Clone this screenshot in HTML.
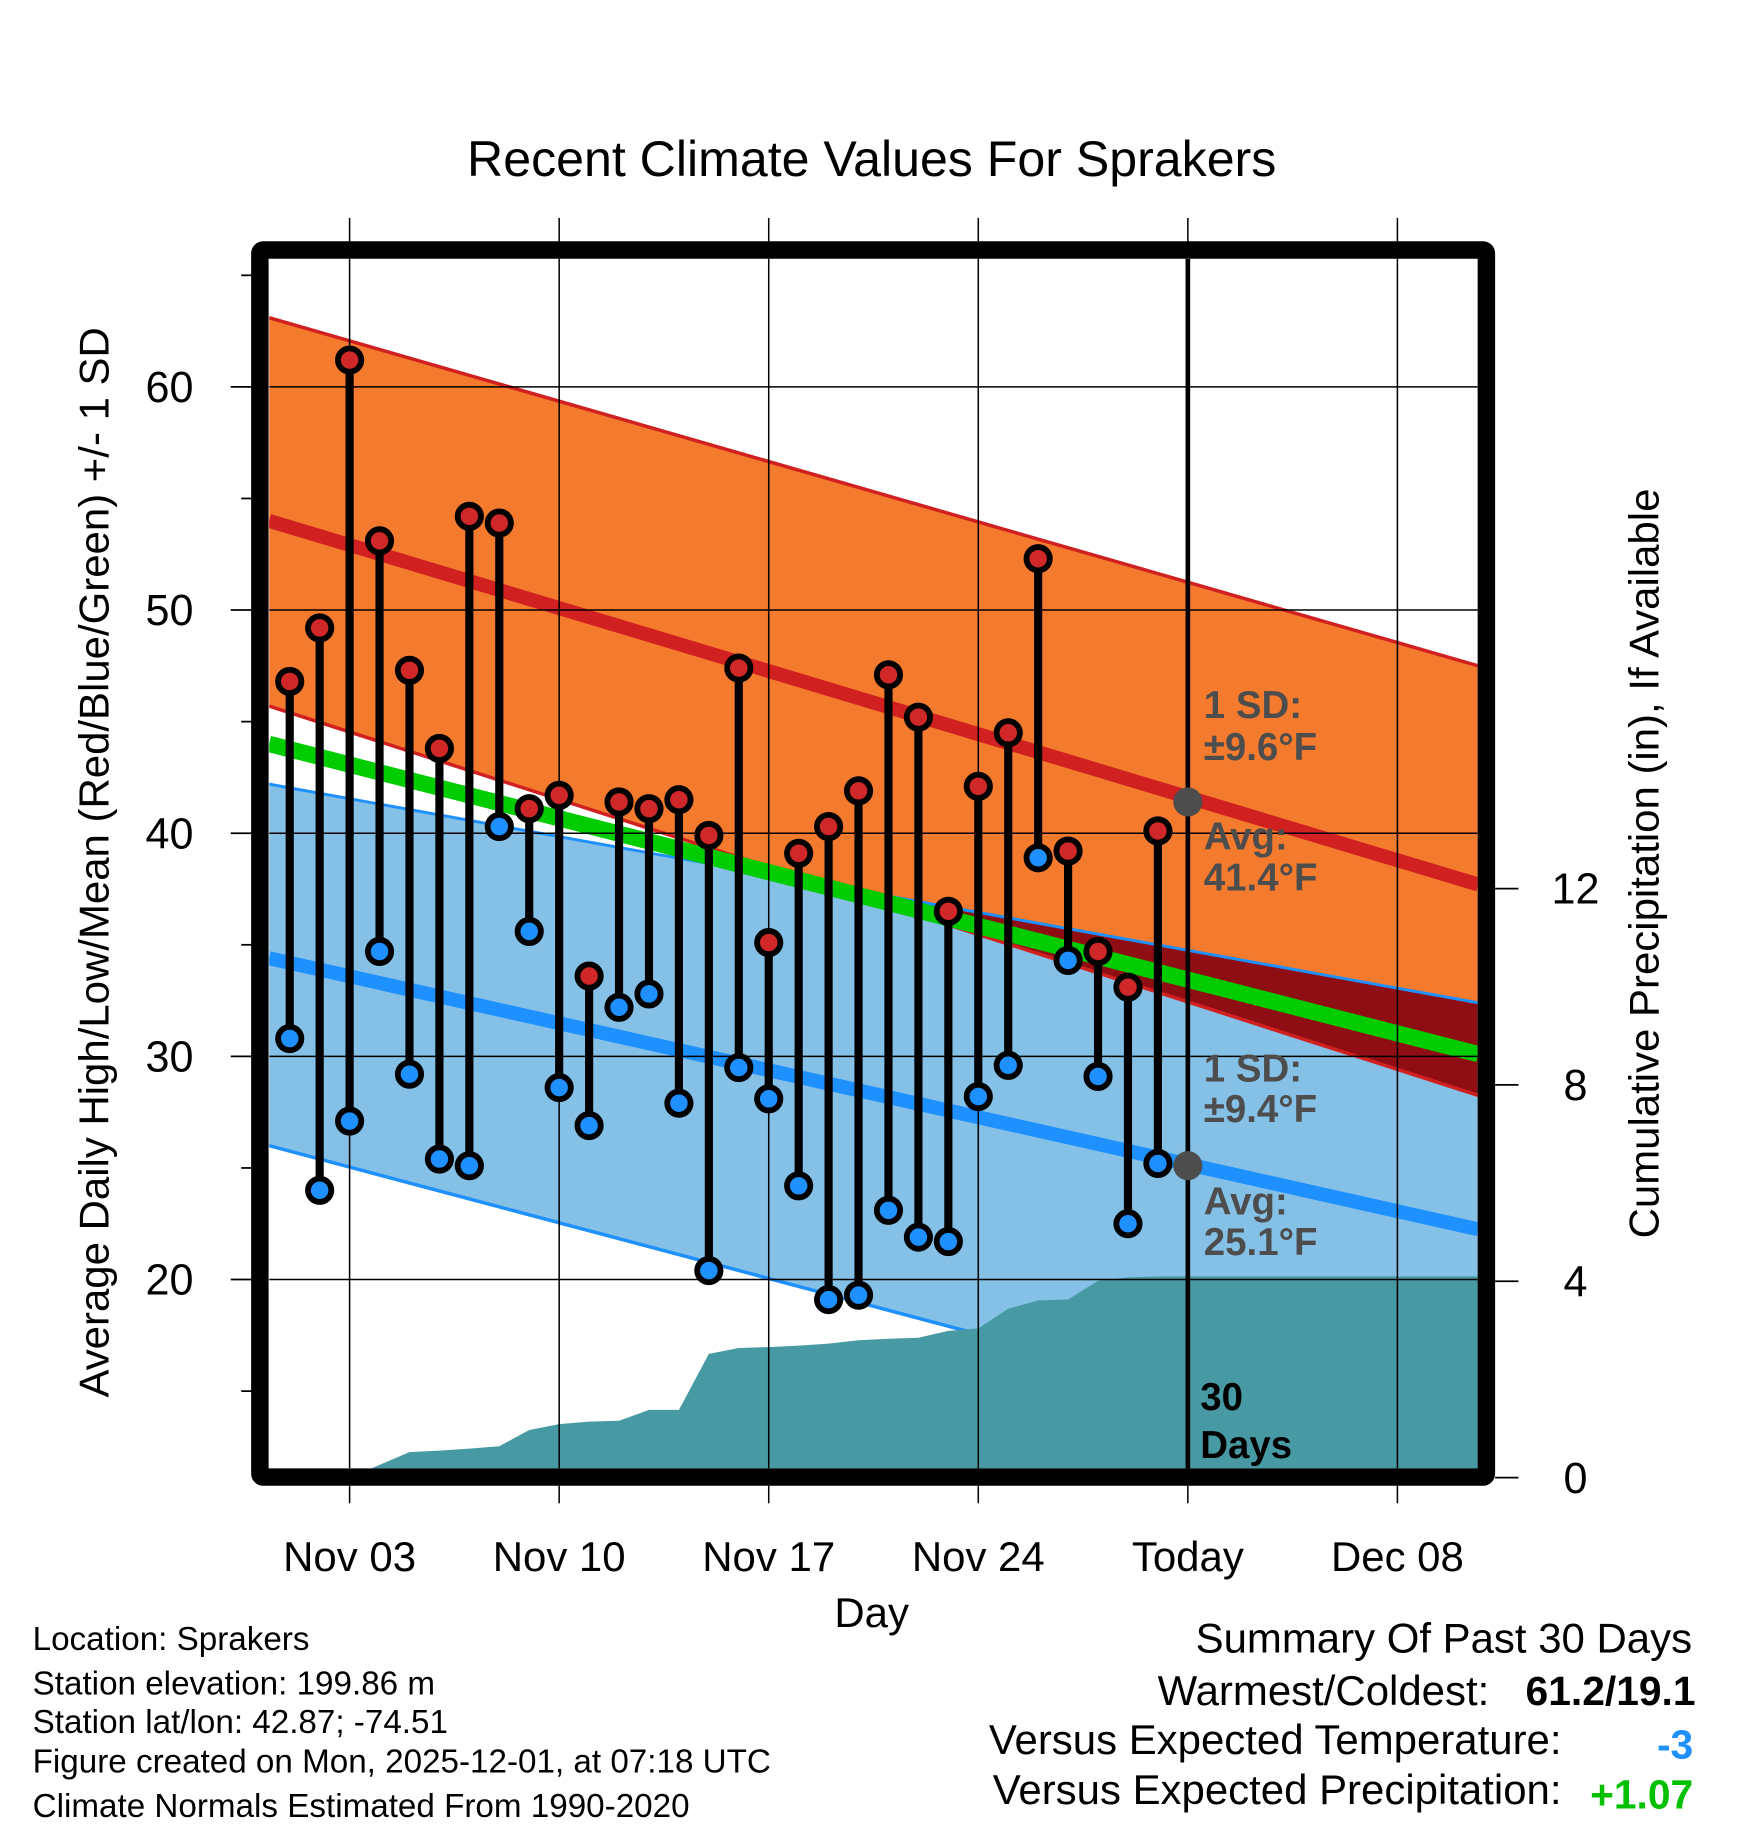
<!DOCTYPE html>
<html><head><meta charset="utf-8"><style>
html,body{margin:0;padding:0;background:#fff}
svg{display:block}
text{font-family:"Liberation Sans",Arial,sans-serif}
</style></head><body>
<svg id="chart" width="1748" height="1828" viewBox="0 0 1500 1568.65" xmlns="http://www.w3.org/2000/svg">
<defs><clipPath id="plotclip"><rect x="231" y="222" width="1037" height="1038"/></clipPath></defs>
<rect x="0" y="0" width="1500" height="1569" fill="#fff"/>
<g id="plot" clip-path="url(#plotclip)"></g>
<g id="overlay"></g>
<text x="748" y="151" font-size="43" text-anchor="middle">Recent Climate Values For Sprakers</text>
<text transform="translate(93,740) rotate(-90)" font-size="36" text-anchor="middle">Average Daily High/Low/Mean (Red/Blue/Green) +/- 1 SD</text>
<text transform="translate(1423,741) rotate(-90)" font-size="36" text-anchor="middle">Cumulative Precipitation (in), If Available</text>
<text x="748" y="1396" font-size="36" text-anchor="middle">Day</text>
<g font-size="28.5">
<text x="28" y="1416">Location: Sprakers</text>
<text x="28" y="1454">Station elevation: 199.86 m</text>
<text x="28" y="1487">Station lat/lon: 42.87; -74.51</text>
<text x="28" y="1521">Figure created on Mon, 2025-12-01, at 07:18 UTC</text>
<text x="28" y="1559">Climate Normals Estimated From 1990-2020</text>
</g>
<g>
<text x="1452" y="1418" font-size="36" text-anchor="end">Summary Of Past 30 Days</text>
<text x="1278" y="1463" font-size="36" text-anchor="end">Warmest/Coldest:</text>
<text x="1455" y="1463" font-size="35" font-weight="bold" text-anchor="end">61.2/19.1</text>
<text x="1340" y="1505" font-size="36" text-anchor="end">Versus Expected Temperature:</text>
<text x="1453" y="1509" font-size="35" font-weight="bold" fill="#1E90FF" text-anchor="end">-3</text>
<text x="1340" y="1548" font-size="36" text-anchor="end">Versus Expected Precipitation:</text>
<text x="1453" y="1552" font-size="35" font-weight="bold" fill="#00C000" text-anchor="end">+1.07</text>
</g>
</svg>
<script>
const highs=[46.8,49.2,61.2,53.1,47.3,43.8,54.2,53.9,41.1,41.7,33.6,41.4,41.1,41.5,39.9,47.4,35.1,39.1,40.3,41.9,47.1,45.2,36.5,42.1,44.5,52.3,39.2,34.7,33.1,40.1];
const lows=[30.8,24.0,27.1,34.7,29.2,25.4,25.1,40.3,35.6,28.6,26.9,32.2,32.8,27.9,20.4,29.5,28.1,24.2,19.1,19.3,23.1,21.9,21.7,28.2,29.6,38.9,34.3,29.1,22.5,25.2];
const precip=[0,0,0,0.26,0.52,0.55,0.59,0.64,0.97,1.09,1.14,1.16,1.38,1.38,2.52,2.64,2.66,2.69,2.73,2.80,2.83,2.85,2.99,3.04,3.44,3.61,3.63,4.01,4.08,4.10];
const tempTicks=[20,30,40,50,60];
const precipTicks=[0,4,8,12];
const xTickLabels=["Nov 03","Nov 10","Nov 17","Nov 24","Today","Dec 08"];
const xTickDays=[2,9,16,23,30,37];
// normals at plot start and end
const normHigh=[54.0,37.7], highUpper=[63.1,47.5], highLower=[45.7,28.25];
const normLow=[34.4,22.25], lowUpper=[42.2,32.4], lowLower=[26.0,11.6];
const normMean=[44.0,30.1];
const todayHigh=41.4, todayLow=25.1;

const X0=231,X1=1268,Y0=222,Y1=1260;
const x=d=>300+(d-2)*25.69;
const y=t=>332+(60-t)*19.15;
const yp=v=>1268-v*42.125;
const dA=-0.69,dB=39.7;
const NS="http://www.w3.org/2000/svg";
const plot=document.getElementById('plot'), ov=document.getElementById('overlay');
function mk(tag,attrs,parent){const e=document.createElementNS(NS,tag);for(const k in attrs)e.setAttribute(k,attrs[k]);(parent||plot).appendChild(e);return e;}
function lv(arr,d){return arr[0]+(arr[1]-arr[0])*(d-dA)/(dB-dA);}
function bandPts(up,lo){return `${x(dA)},${y(lv(up,dA))} ${x(dB)},${y(lv(up,dB))} ${x(dB)},${y(lv(lo,dB))} ${x(dA)},${y(lv(lo,dA))}`;}
let e=mk('polygon',{points:bandPts(lowUpper,lowLower),fill:'#85C1E6'});

e=mk('polygon',{points:bandPts(highUpper,highLower),fill:'#F47A2E'});

let pts=[],ptsB=[];
for(let i=0;i<=200;i++){const d=dA+(dB-dA)*i/200;const top=y(lv(lowUpper,d)),bot=y(lv(highLower,d));if(bot>top){pts.push(`${x(d)},${top}`);ptsB.unshift(`${x(d)},${bot}`);}}
if(pts.length){e=mk('polygon',{points:pts.concat(ptsB).join(' '),fill:'#8F0E14'});}
function ln(arr,stroke,w,name){const a=mk('line',{x1:x(dA),y1:y(lv(arr,dA)),x2:x(dB),y2:y(lv(arr,dB)),stroke:stroke,'stroke-width':w});}
ln(highUpper,'#D02020',3,'high-sd-upper');
ln(highLower,'#D02020',3,'high-sd-lower');
ln(lowUpper,'#1E90FF',2.5,'low-sd-upper');
ln(lowLower,'#1E90FF',3,'low-sd-lower');
ln(normMean,'#00CC00',14,'mean-normal-line');
ln(normHigh,'#D02020',12,'high-normal-line');
ln(normLow,'#1E90FF',12,'low-normal-line');
let pp=[`${x(dA)},${Y1+10}`,`${x(dA)},${yp(precip[0])}`];
precip.forEach((v,i)=>pp.push(`${x(i)},${yp(v)}`));
pp.push(`${x(dB)},${yp(precip[precip.length-1])}`,`${x(dB)},${Y1+10}`);
e=mk('polygon',{points:pp.join(' '),fill:'#479AA3'});

tempTicks.forEach(t=>{const g=mk('line',{x1:X0,x2:X1,y1:y(t),y2:y(t),stroke:'#000','stroke-width':1.3});});
xTickDays.forEach(d=>{const g=mk('line',{x1:x(d),x2:x(d),y1:Y0,y2:Y1,stroke:'#000','stroke-width':1.3});});
e=mk('line',{x1:x(30),x2:x(30),y1:Y0,y2:Y1,stroke:'#000','stroke-width':4});

const ann=[["1 SD:",605],["±9.6°F",641],["Avg:",718],["41.4°F",753],["1 SD:",917],["±9.4°F",952],["Avg:",1031],["25.1°F",1066]];
ann.forEach(a=>{const t=mk('text',{x:1033,y:a[1]+11,'font-size':33,'font-weight':'bold',fill:'#4D4D4D'});t.textContent=a[0];});
[todayHigh,todayLow].forEach(v=>{const c=mk('circle',{cx:x(30),cy:y(v),r:12.5,fill:'#4D4D4D'});});
highs.forEach((h,i)=>{const s=mk('line',{x1:x(i),x2:x(i),y1:y(h),y2:y(lows[i]),stroke:'#000','stroke-width':7});});
highs.forEach((h,i)=>{const c=mk('circle',{cx:x(i),cy:y(h),r:10,fill:'#D02828',stroke:'#000','stroke-width':5});
const c2=mk('circle',{cx:x(i),cy:y(lows[i]),r:10,fill:'#1E90FF',stroke:'#000','stroke-width':5});});
let t=mk('text',{x:1030,y:1210,'font-size':33,'font-weight':'bold'});t.textContent='30';
t=mk('text',{x:1030,y:1251,'font-size':33,'font-weight':'bold'});t.textContent='Days';
e=mk('rect',{x:223,y:214.5,width:1052.5,height:1053,fill:'none',stroke:'#000','stroke-width':15,rx:3},ov);

tempTicks.forEach(v=>{const k=mk('line',{x1:198,x2:216,y1:y(v),y2:y(v),stroke:'#000','stroke-width':1.5},ov);
const l=mk('text',{x:166,y:y(v)+13,'font-size':37,'text-anchor':'end'},ov);l.textContent=v;});
[15,25,35,45,55,65].forEach(v=>{const k=mk('line',{x1:207,x2:216,y1:y(v),y2:y(v),stroke:'#000','stroke-width':1.5},ov);});
precipTicks.forEach(v=>{const k=mk('line',{x1:1283,x2:1303,y1:yp(v),y2:yp(v),stroke:'#000','stroke-width':1.5},ov);
const l=mk('text',{x:1352,y:yp(v)+13,'font-size':37,'text-anchor':'middle'},ov);l.textContent=v;});
xTickDays.forEach((d,i)=>{const k=mk('line',{x1:x(d),x2:x(d),y1:187,y2:208,stroke:'#000','stroke-width':1.3},ov);
const k2=mk('line',{x1:x(d),x2:x(d),y1:1275,y2:1290,stroke:'#000','stroke-width':1.3},ov);
const l=mk('text',{x:x(d),y:1348,'font-size':36,'text-anchor':'middle'},ov);l.textContent=xTickLabels[i];});
</script>
</body></html>
